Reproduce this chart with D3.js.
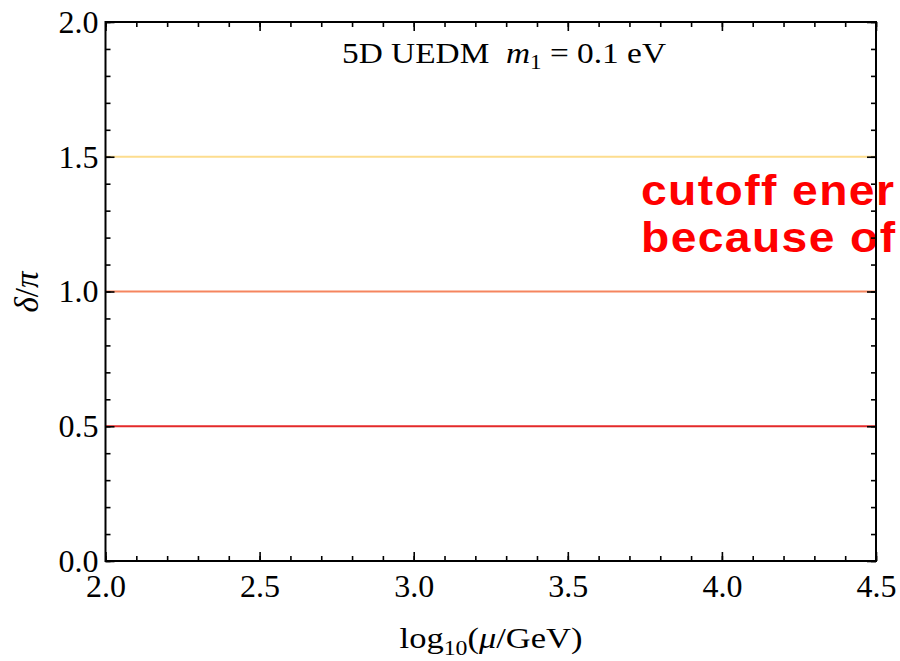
<!DOCTYPE html>
<html>
<head>
<meta charset="utf-8">
<script src="https://cdn.jsdelivr.net/npm/d3@7"></script>
<style>
  body { margin: 0; background: #fff; }
  svg { display: block; }
</style>
</head>
<body>
<script>
// data
var muRange = [2.0, 4.5];
var deltaYellow = [1.5, 1.5];
var deltaOrange = [1.0, 1.0];
var deltaRed = [0.5, 0.5];
var xMajor = [2.0, 2.5, 3.0, 3.5, 4.0, 4.5];
var yMajor = [0.0, 0.5, 1.0, 1.5, 2.0];

var W = 900, H = 661;
var plotL = 105.5, plotT = 22, plotR = 876, plotB = 561;
var serif = '"Liberation Serif", "Times New Roman", serif';

var svg = d3.select('body').append('svg')
    .attr('width', W)
    .attr('height', H);

var x = d3.scaleLinear().domain([2.0, 4.5]).range([plotL, plotR]);
var y = d3.scaleLinear().domain([0, 2]).range([plotB, plotT]);

var xMinor = d3.range(20, 46).map(function(d) { return d / 10; });
var yMinor = d3.range(0, 21).map(function(d) { return d / 10; });

var series = [
  {vals: deltaYellow, color: '#fddd8e'},
  {vals: deltaOrange, color: '#f5855f'},
  {vals: deltaRed, color: '#e42a2a'}
];

var line = d3.line()
    .x(function(d, i) { return x(muRange[i]); })
    .y(function(d) { return y(d); });

svg.selectAll('path.series')
   .data(series)
   .enter()
   .append('path')
   .attr('class', 'series')
   .attr('d', function(s) { return line(s.vals); })
   .attr('fill', 'none')
   .attr('stroke', function(s) { return s.color; })
   .attr('stroke-width', 2.2);

// red annotation, sits under the frame
var note = svg.append('g')
    .attr('transform', 'translate(641,0) scale(1.1,1)')
    .attr('font-family', '"Liberation Sans", Arial, sans-serif')
    .attr('font-weight', 'bold')
    .attr('font-size', 42)
    .attr('fill', '#ff0000')
    .attr('letter-spacing', 1.3);
note.append('text').attr('x', 0).attr('y', 205).text('cutoff ener');
note.append('text').attr('x', 0).attr('y', 252).text('because of');

function axisStyle(g) {
  g.select('.domain').remove();
  g.attr('font-family', serif).attr('font-size', 32);
  g.selectAll('.tick line').attr('stroke', '#000').attr('stroke-width', 1.6);
  g.selectAll('.tick text').attr('fill', '#000');
}

// minor ticks
function minor(axis, pos, vals) {
  svg.append('g')
     .attr('transform', pos)
     .call(axis.tickValues(vals).tickSize(-5).tickFormat(''))
     .call(axisStyle);
}
minor(d3.axisBottom(x), 'translate(0,' + plotB + ')', xMinor);
minor(d3.axisTop(x), 'translate(0,' + plotT + ')', xMinor);
minor(d3.axisLeft(y), 'translate(' + plotL + ',0)', yMinor);
minor(d3.axisRight(y), 'translate(' + plotR + ',0)', yMinor);

// major ticks
svg.append('g')
   .attr('transform', 'translate(0,' + plotB + ')')
   .call(d3.axisBottom(x).tickValues(xMajor).tickSize(-9).tickPadding(13).tickFormat(d3.format('.1f')))
   .call(axisStyle);
svg.append('g')
   .attr('transform', 'translate(0,' + plotT + ')')
   .call(d3.axisTop(x).tickValues(xMajor).tickSize(-9).tickFormat(''))
   .call(axisStyle);
svg.append('g')
   .attr('transform', 'translate(' + plotL + ',0)')
   .call(d3.axisLeft(y).tickValues(yMajor).tickSize(-9).tickPadding(7).tickFormat(d3.format('.1f')))
   .call(axisStyle);
svg.append('g')
   .attr('transform', 'translate(' + plotR + ',0)')
   .call(d3.axisRight(y).tickValues(yMajor).tickSize(-9).tickFormat(''))
   .call(axisStyle);

// frame
svg.append('rect')
   .attr('x', plotL).attr('y', plotT)
   .attr('width', plotR - plotL).attr('height', plotB - plotT)
   .attr('fill', 'none').attr('stroke', '#000').attr('stroke-width', 2);

// title
var title = svg.append('text')
    .attr('transform', 'translate(504,63) scale(1.15,1)')
    .attr('text-anchor', 'middle')
    .attr('font-family', serif)
    .attr('font-size', 29);
title.append('tspan').text('5D UEDM\u00a0\u00a0');
title.append('tspan').attr('font-style', 'italic').text('m');
title.append('tspan').attr('font-size', 20).attr('dy', 6).text('1');
title.append('tspan').attr('dy', -6).text(' = 0.1 eV');

// x label
var xl = svg.append('text')
    .attr('transform', 'translate(491,648) scale(1.19,1)')
    .attr('text-anchor', 'middle')
    .attr('font-family', serif)
    .attr('font-size', 29);
xl.append('tspan').text('log');
xl.append('tspan').attr('font-size', 20).attr('dy', 7).text('10');
xl.append('tspan').attr('dy', -7).text('(');
xl.append('tspan').attr('font-style', 'italic').text('\u03bc');
xl.append('tspan').text('/GeV)');

// y label
var yl = svg.append('text')
    .attr('transform', 'translate(38,292) rotate(-90)')
    .attr('text-anchor', 'middle')
    .attr('font-family', serif)
    .attr('font-size', 33)
    .attr('font-style', 'italic');
yl.append('tspan').text('\u03b4');
yl.append('tspan').attr('font-style', 'normal').text('/');
yl.append('tspan').text('\u03c0');
</script>
</body>
</html>
